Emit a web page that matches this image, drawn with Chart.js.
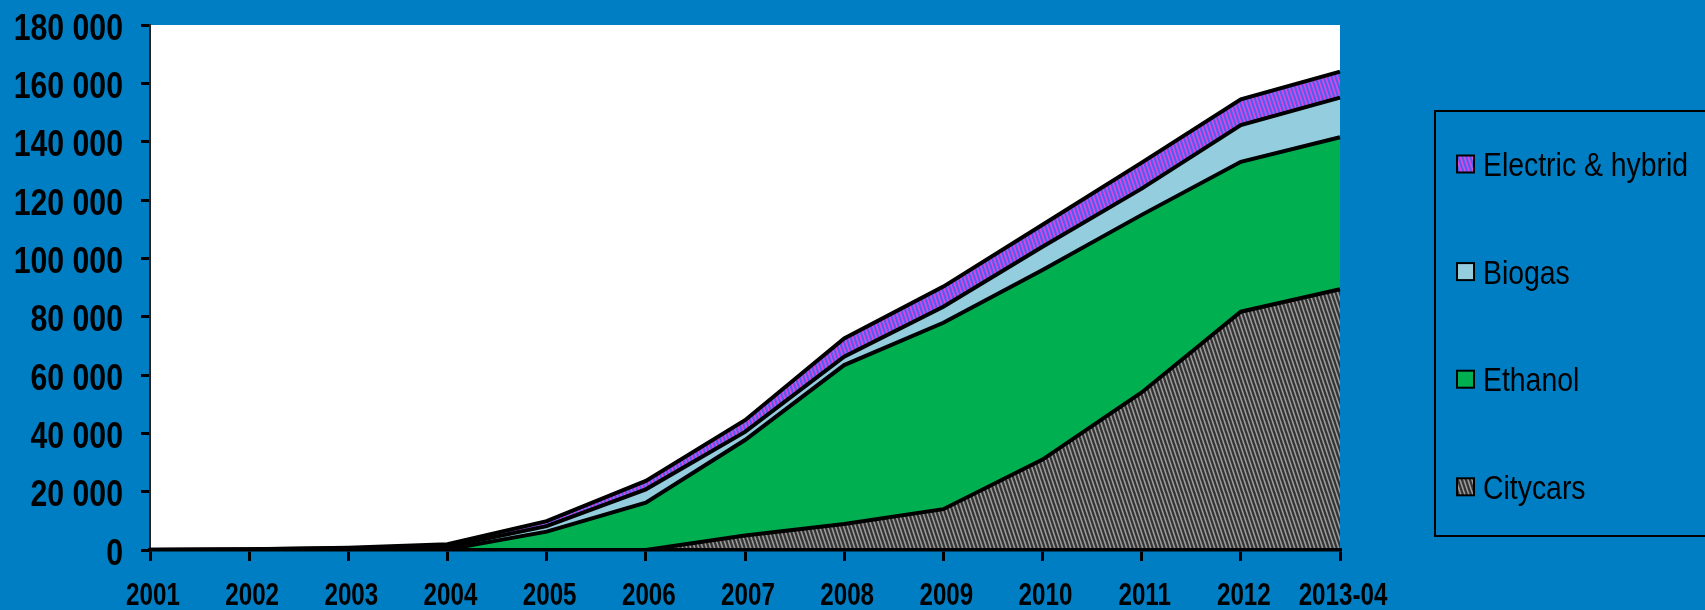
<!DOCTYPE html>
<html><head><meta charset="utf-8">
<script src="https://cdn.jsdelivr.net/npm/chart.js@4.4.1/dist/chart.umd.min.js"></script>
<style>
html,body{margin:0;padding:0;background:#007EC3;overflow:hidden;}
#wrap{width:1705px;height:610px;position:relative;}
</style></head><body>
<div id="wrap"><canvas id="c" width="1705" height="610"></canvas></div>
<script>
// ---- data ----
const categories = ['2001','2002','2003','2004','2005','2006','2007','2008','2009','2010','2011','2012','2013-04'];
const citycars = [0, 0, 0, 0, 0, 0, 5000, 8900, 14000, 31000, 54000, 81700, 89400];
const ethanol  = [0, 0, 0, 200, 6300, 16200, 32700, 54500, 63900, 65000, 60900, 51400, 52100];
const biogas   = [100, 300, 600, 900, 1900, 4600, 2800, 2900, 5500, 8000, 9000, 12600, 13600];
const electric = [0, 0, 200, 900, 1700, 2900, 4000, 6200, 6900, 7500, 8900, 8800, 8900];
const seriesNames = ['Citycars', 'Ethanol', 'Biogas', 'Electric & hybrid'];
const yTicks = { min: 0, max: 180000, step: 20000 };

const FONT = '"Liberation Sans", Arial, sans-serif';

function stripes(bg, fg, lw, w, h) {
  const c = document.createElement('canvas'); c.width = w; c.height = h;
  const x = c.getContext('2d');
  x.fillStyle = bg; x.fillRect(0, 0, w, h);
  x.strokeStyle = fg; x.lineWidth = lw;
  for (const o of [-w, 0, w]) { x.beginPath(); x.moveTo(o, 0); x.lineTo(o + w, h); x.stroke(); }
  return x.createPattern(c, 'repeat');
}
const fills = [
  stripes('#333333', '#9c9c9c', 1.6, 4, 12),
  '#00B050',
  '#94CDDE',
  stripes('#4A60F0', '#E046DE', 1.8, 4, 12)
];
const values = [citycars, ethanol, biogas, electric];

const bgPlugin = {
  id: 'bg',
  beforeDraw(chart) {
    const { ctx, chartArea: a } = chart;
    ctx.save();
    ctx.fillStyle = '#007EC3';
    ctx.fillRect(0, 0, chart.width, chart.height);
    ctx.fillStyle = '#ffffff';
    ctx.fillRect(a.left, a.top, a.right - a.left, a.bottom - a.top);
    ctx.restore();
  }
};

function narrowText(ctx, text, x, y, sx, align) {
  ctx.save();
  ctx.translate(x, y);
  ctx.scale(sx, 1);
  ctx.textAlign = align;
  ctx.fillText(text, 0, 0);
  ctx.restore();
}

const fmt = v => String(v).replace(/\B(?=(\d{3})+(?!\d))/g, ' ');

// axis labels drawn in a narrow face (condensed horizontally), positions from the scales
const labelPlugin = {
  id: 'narrowLabels',
  afterDraw(chart) {
    const ctx = chart.ctx;
    const ys = chart.scales.y, xs = chart.scales.x;
    ctx.save();
    ctx.fillStyle = '#000';
    ctx.textBaseline = 'alphabetic';
    ctx.font = 'bold 36px ' + FONT;
    ys.ticks.forEach(t => {
      const py = ys.getPixelForValue(t.value);
      narrowText(ctx, fmt(t.value), ys.right - 27, py + 14.5, 0.84, 'right');
    });
    ctx.font = 'bold 31px ' + FONT;
    xs.ticks.forEach((t, i) => {
      const px = xs.getPixelForTick(i);
      narrowText(ctx, xs.getLabelForValue(t.value), px + 3, 605, 0.78, 'center');
    });
    ctx.restore();
  }
};

const legendPlugin = {
  id: 'boxLegend',
  afterDraw(chart) {
    const ctx = chart.ctx;
    ctx.save();
    ctx.lineWidth = 2; ctx.strokeStyle = '#000';
    ctx.strokeRect(1435, 111, 300, 425);
    const ds = chart.data.datasets.slice().reverse();
    const top = 164, gap = 107.6;
    ctx.font = '34px ' + FONT;
    ctx.textBaseline = 'alphabetic';
    ds.forEach((d, i) => {
      const y = top + i * gap;
      ctx.fillStyle = d.backgroundColor;
      ctx.fillRect(1457, y - 8.5, 17, 17);
      ctx.lineWidth = 2; ctx.strokeStyle = '#000';
      ctx.strokeRect(1457, y - 8.5, 17, 17);
      ctx.fillStyle = '#000';
      narrowText(ctx, d.label, 1483, y + 12, 0.835, 'left');
    });
    ctx.restore();
  }
};

new Chart(document.getElementById('c'), {
  type: 'line',
  data: {
    labels: categories,
    datasets: seriesNames.map((n, i) => ({
      label: n,
      data: values[i],
      backgroundColor: fills[i],
      borderColor: '#000',
      borderWidth: 4,
      pointRadius: 0,
      tension: 0,
      fill: i === 0 ? 'origin' : '-1'
    }))
  },
  options: {
    responsive: false,
    animation: false,
    devicePixelRatio: 1,
    layout: { padding: { left: 0, top: 25, right: 365, bottom: 0 } },
    plugins: { legend: { display: false }, tooltip: { enabled: false } },
    scales: {
      x: {
        offset: false,
        grid: { drawOnChartArea: false, color: '#000', lineWidth: 3, tickLength: 11 },
        border: { color: '#000', width: 3.5, z: 1 },
        ticks: { display: false, autoSkip: false },
        afterFit(s) { s.height = 60; }
      },
      y: {
        stacked: true,
        min: yTicks.min, max: yTicks.max,
        grid: { drawOnChartArea: false, color: '#000', lineWidth: 3, tickLength: 9 },
        border: { color: '#222', width: 2 },
        ticks: { display: false, stepSize: yTicks.step },
        afterFit(s) { s.width = 150; }
      }
    }
  },
  plugins: [bgPlugin, labelPlugin, legendPlugin]
});
</script>
</body></html>
